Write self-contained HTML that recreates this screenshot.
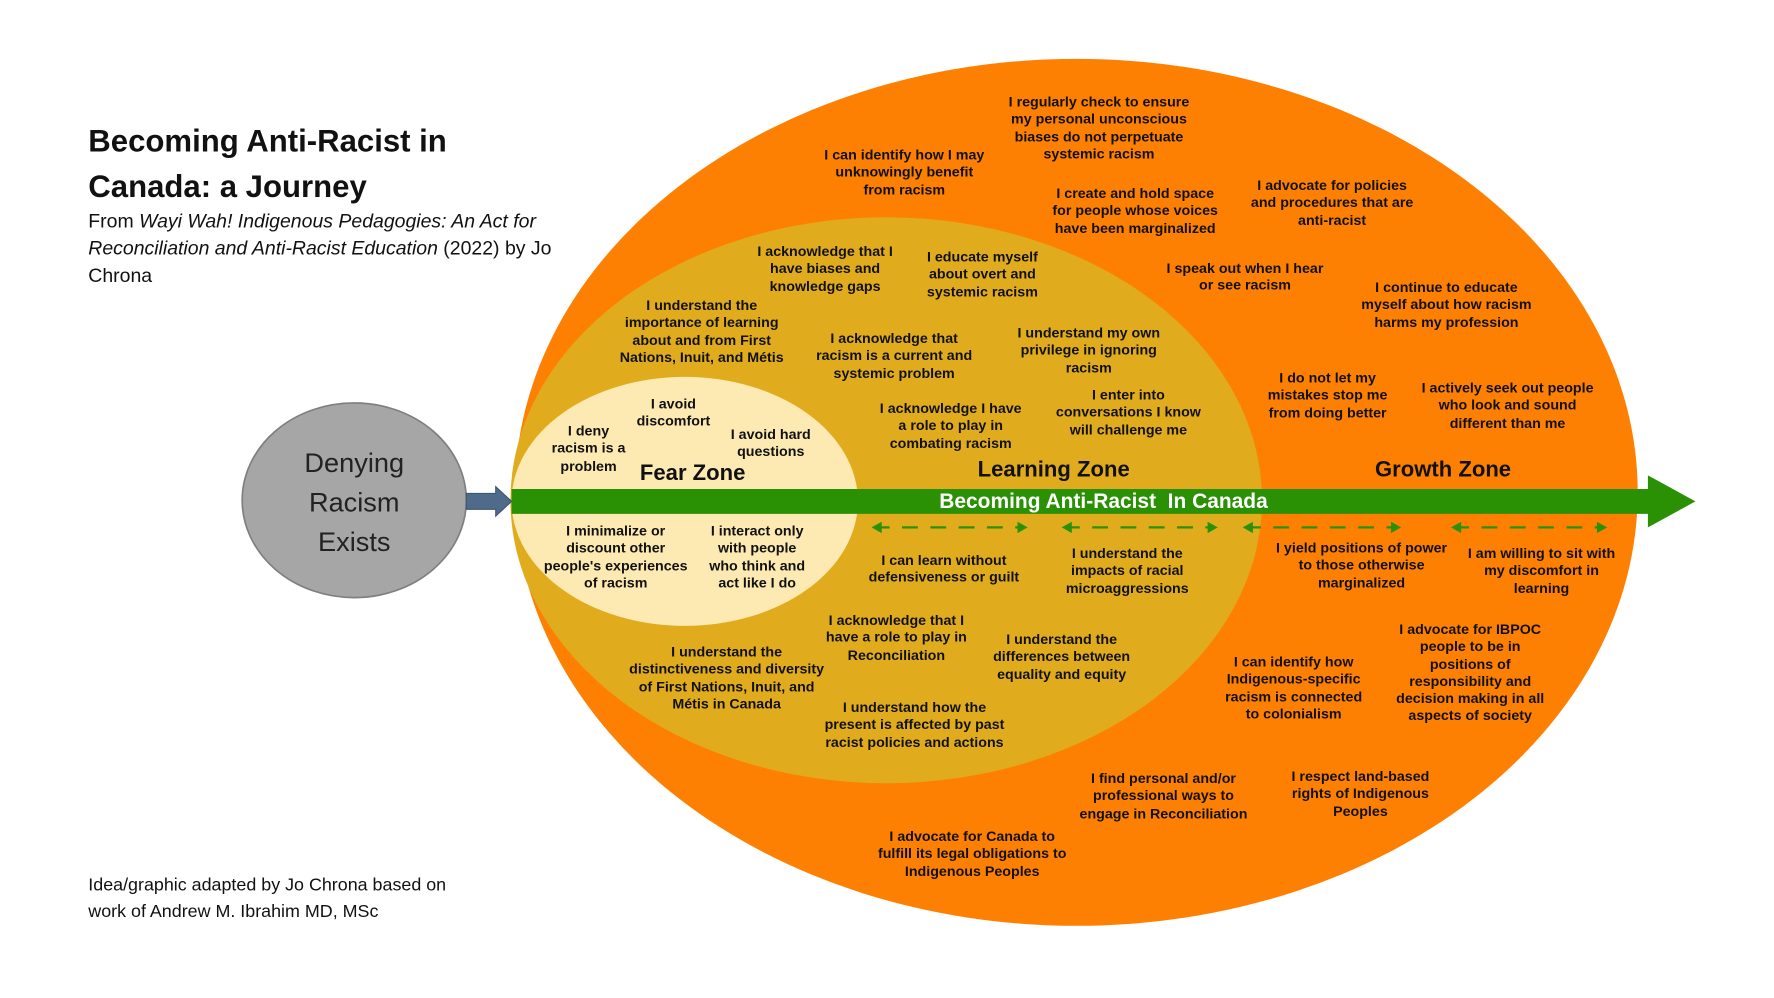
<!DOCTYPE html>
<html><head><meta charset="utf-8"><style>
html,body{margin:0;padding:0;background:#fff;width:1774px;height:998px;overflow:hidden}
#w{position:absolute;left:0;top:0;width:1568px;height:882px;transform:scale(1.1318);transform-origin:0 0;font-family:"Liberation Sans",Arial,sans-serif}
.t{position:absolute;width:300px;text-align:center;font-weight:bold;font-size:12.6px;line-height:15.3px;color:#111;white-space:nowrap}
.z{position:absolute;width:300px;text-align:center;font-weight:bold;font-size:19.5px;color:#111;white-space:nowrap}
</style></head><body><div id="w">
<svg width="1568" height="882" style="position:absolute;left:0;top:0">
<ellipse cx="951" cy="435" rx="496" ry="383" fill="#fe8002"/>
<ellipse cx="783" cy="442" rx="332" ry="250" fill="#e0ac1e"/>
<ellipse cx="605" cy="443" rx="153" ry="110" fill="#fde9b2"/>
<ellipse cx="313" cy="442" rx="99" ry="86" fill="#a6a6a6" stroke="#7f7f7f" stroke-width="1.5"/>
<polygon points="412,436 438,436 438,430 452,443 438,456 438,450 412,450" fill="#4f6b8a" stroke="#3e5672" stroke-width="1"/>
<polygon points="452,432 1456,432 1456,420 1498,443 1456,466 1456,454 452,454" fill="#2a9104"/>
<g stroke="#2a9104" stroke-width="2" stroke-dasharray="14,11" fill="none">
<line x1="772" y1="466" x2="906" y2="466"/><line x1="940" y1="466" x2="1074" y2="466"/>
<line x1="1100" y1="466" x2="1236" y2="466"/><line x1="1284" y1="466" x2="1418" y2="466"/>
</g>
<g fill="#2a9104">
<polygon points="770,466 779,461 779,471"/><polygon points="908,466 899,461 899,471"/>
<polygon points="938,466 947,461 947,471"/><polygon points="1076,466 1067,461 1067,471"/>
<polygon points="1098,466 1107,461 1107,471"/><polygon points="1238,466 1229,461 1229,471"/>
<polygon points="1282,466 1291,461 1291,471"/><polygon points="1420,466 1411,461 1411,471"/>
</g>
</svg>
<div style="position:absolute;left:78px;top:105px;font-size:27.5px;font-weight:bold;line-height:40px;color:#111;white-space:nowrap">Becoming Anti-Racist in<br>Canada: a Journey</div>
<div style="position:absolute;left:78px;top:183px;font-size:17.2px;line-height:24px;color:#111;width:460px">From <i>Wayi Wah! Indigenous Pedagogies: An Act for<br>Reconciliation and Anti-Racist Education</i> (2022) by Jo<br>Chrona</div>
<div style="position:absolute;left:78px;top:771px;font-size:15.8px;line-height:23px;color:#111;white-space:nowrap">Idea/graphic adapted by Jo Chrona based on<br>work of Andrew M. Ibrahim MD, MSc</div>
<div style="position:absolute;left:213px;top:392px;width:200px;text-align:center;font-size:24px;line-height:35px;color:#222">Denying<br>Racism<br>Exists</div>
<div class="z" style="left:825px;top:432px;color:#fff;font-size:18.5px;line-height:22px">Becoming Anti-Racist&nbsp; In Canada</div>
<div class="z" style="left:462px;top:407px">Fear Zone</div>
<div class="z" style="left:781px;top:404px">Learning Zone</div>
<div class="z" style="left:1125px;top:404px">Growth Zone</div>
<div class="t" style="left:821px;top:83px">I regularly check to ensure<br>my personal unconscious<br>biases do not perpetuate<br>systemic racism</div>
<div class="t" style="left:649px;top:130px">I can identify how I may<br>unknowingly benefit<br>from racism</div>
<div class="t" style="left:853px;top:164px">I create and hold space<br>for people whose voices<br>have been marginalized</div>
<div class="t" style="left:1027px;top:157px">I advocate for policies<br>and procedures that are<br>anti-racist</div>
<div class="t" style="left:579px;top:215px">I acknowledge that I<br>have biases and<br>knowledge gaps</div>
<div class="t" style="left:718px;top:220px">I educate myself<br>about overt and<br>systemic racism</div>
<div class="t" style="left:950px;top:230px">I speak out when I hear<br>or see racism</div>
<div class="t" style="left:1128px;top:247px">I continue to educate<br>myself about how racism<br>harms my profession</div>
<div class="t" style="left:470px;top:263px">I understand the<br>importance of learning<br>about and from First<br>Nations, Inuit, and Métis</div>
<div class="t" style="left:640px;top:292px">I acknowledge that<br>racism is a current and<br>systemic problem</div>
<div class="t" style="left:812px;top:287px">I understand my own<br>privilege in ignoring<br>racism</div>
<div class="t" style="left:1023px;top:327px">I do not let my<br>mistakes stop me<br>from doing better</div>
<div class="t" style="left:1182px;top:336px">I actively seek out people<br>who look and sound<br>different than me</div>
<div class="t" style="left:445px;top:350px">I avoid<br>discomfort</div>
<div class="t" style="left:847px;top:342px">I enter into<br>conversations I know<br>will challenge me</div>
<div class="t" style="left:690px;top:354px">I acknowledge I have<br>a role to play in<br>combating racism</div>
<div class="t" style="left:370px;top:374px">I deny<br>racism is a<br>problem</div>
<div class="t" style="left:531px;top:377px">I avoid hard<br>questions</div>
<div class="t" style="left:394px;top:462px">I minimalize or<br>discount other<br>people's experiences<br>of racism</div>
<div class="t" style="left:519px;top:462px">I interact only<br>with people<br>who think and<br>act like I do</div>
<div class="t" style="left:684px;top:488px">I can learn without<br>defensiveness or guilt</div>
<div class="t" style="left:846px;top:482px">I understand the<br>impacts of racial<br>microaggressions</div>
<div class="t" style="left:1053px;top:477px">I yield positions of power<br>to those otherwise<br>marginalized</div>
<div class="t" style="left:1212px;top:482px">I am willing to sit with<br>my discomfort in<br>learning</div>
<div class="t" style="left:642px;top:541px">I acknowledge that I<br>have a role to play in<br>Reconciliation</div>
<div class="t" style="left:788px;top:558px">I understand the<br>differences between<br>equality and equity</div>
<div class="t" style="left:1149px;top:549px">I advocate for IBPOC<br>people to be in<br>positions of<br>responsibility and<br>decision making in all<br>aspects of society</div>
<div class="t" style="left:492px;top:569px">I understand the<br>distinctiveness and diversity<br>of First Nations, Inuit, and<br>Métis in Canada</div>
<div class="t" style="left:993px;top:578px">I can identify how<br>Indigenous-specific<br>racism is connected<br>to colonialism</div>
<div class="t" style="left:658px;top:618px">I understand how the<br>present is affected by past<br>racist policies and actions</div>
<div class="t" style="left:878px;top:681px">I find personal and/or<br>professional ways to<br>engage in Reconciliation</div>
<div class="t" style="left:1052px;top:679px">I respect land-based<br>rights of Indigenous<br>Peoples</div>
<div class="t" style="left:709px;top:732px">I advocate for Canada to<br>fulfill its legal obligations to<br>Indigenous Peoples</div>
</div></body></html>
